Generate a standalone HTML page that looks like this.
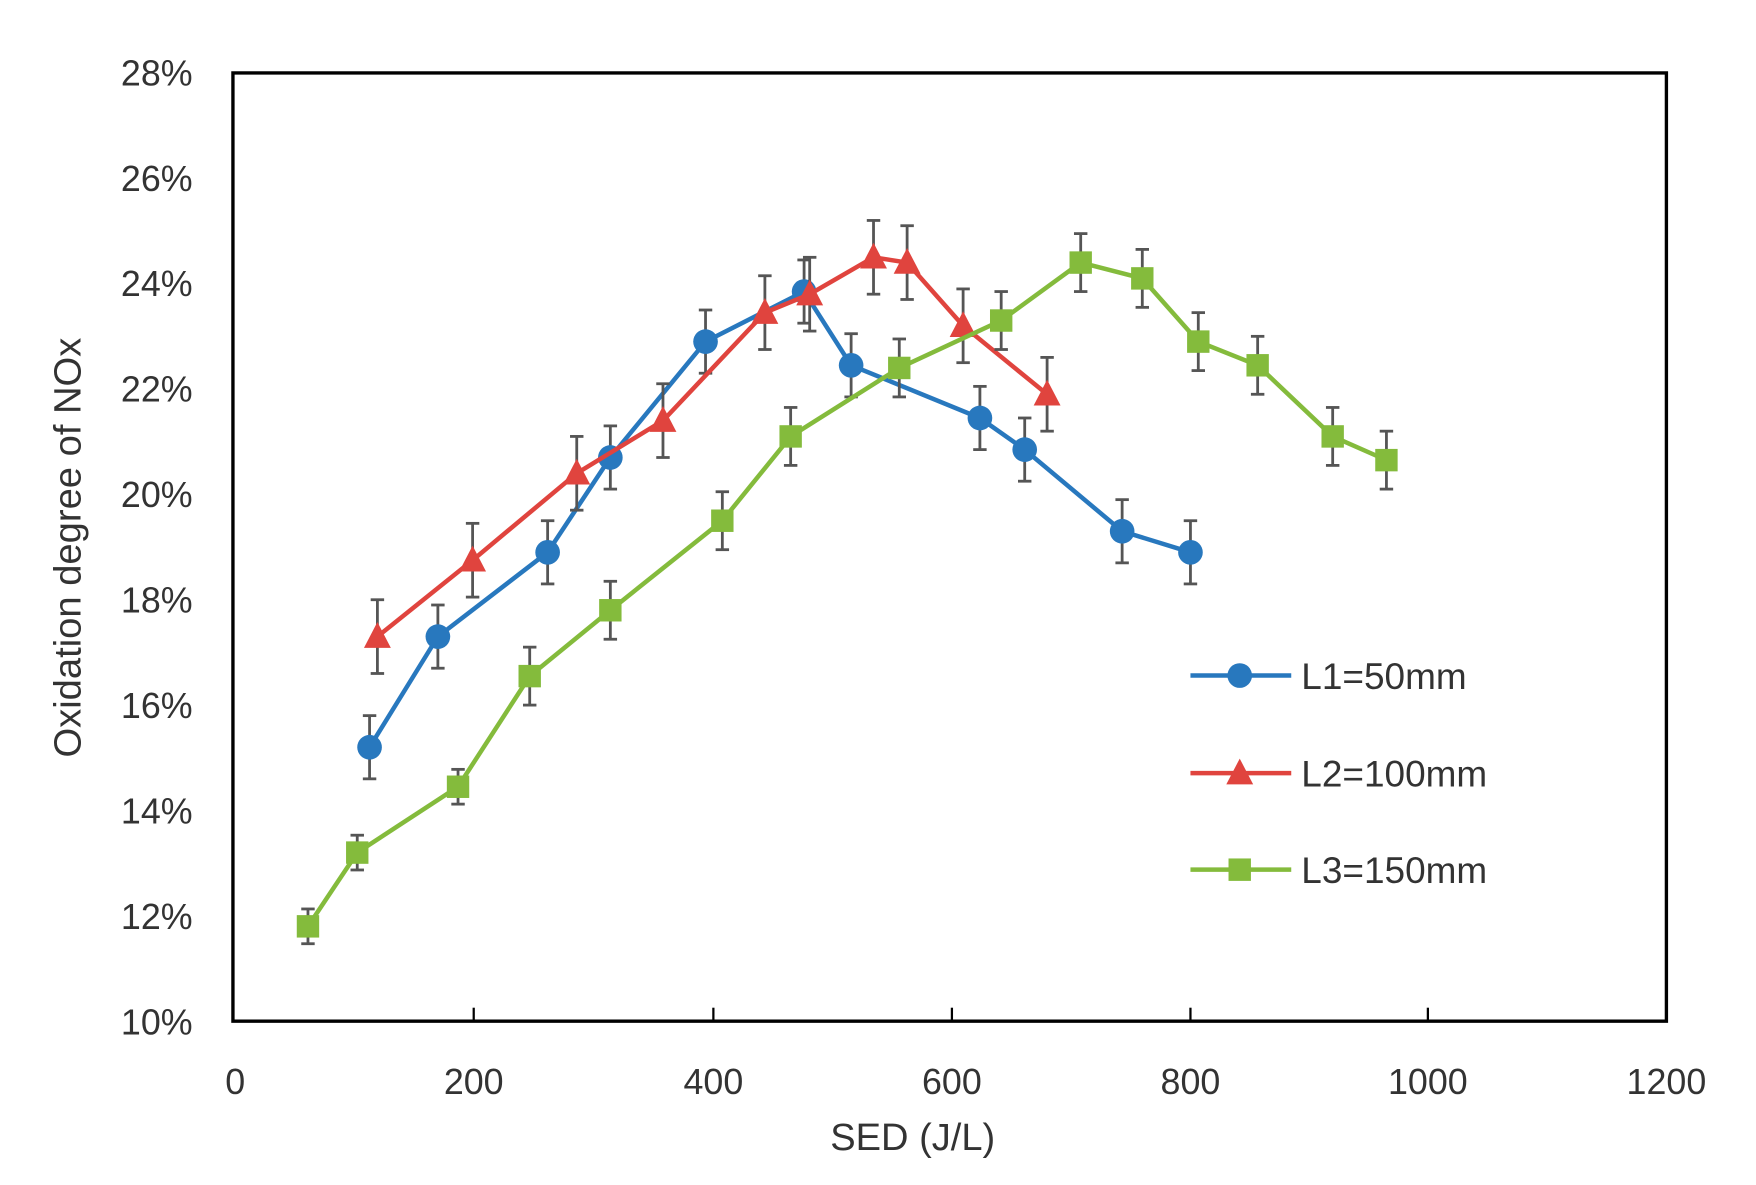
<!DOCTYPE html>
<html><head><meta charset="utf-8"><style>
html,body{margin:0;padding:0;background:#fff;}
svg{display:block;}
text{font-family:"Liberation Sans",sans-serif;fill:#333;}
</style></head><body>
<svg id="s" width="1756" height="1185" viewBox="0 0 1568 1056" preserveAspectRatio="none">
<rect x="0" y="0" width="1568" height="1056" fill="#fff"/>
<rect x="208" y="65" width="1280" height="845" fill="none" stroke="#000" stroke-width="3"/>
<g font-size="32" text-anchor="end">
<text x="172" y="76">28%</text><text x="172" y="170">26%</text><text x="172" y="264">24%</text>
<text x="172" y="358">22%</text><text x="172" y="452">20%</text><text x="172" y="546">18%</text>
<text x="172" y="640">16%</text><text x="172" y="734">14%</text><text x="172" y="828">12%</text>
<text x="172" y="922">10%</text>
</g>
<g font-size="32" text-anchor="middle">
<text x="210" y="975">0</text><text x="423" y="975">200</text><text x="637" y="975">400</text>
<text x="850" y="975">600</text><text x="1063" y="975">800</text><text x="1275" y="975">1000</text>
<text x="1488" y="975">1200</text>
</g>
<g stroke="#000" stroke-width="2">
<line x1="423" y1="910" x2="423" y2="898"/><line x1="637" y1="910" x2="637" y2="898"/>
<line x1="850" y1="910" x2="850" y2="898"/><line x1="1063" y1="910" x2="1063" y2="898"/>
<line x1="1275" y1="910" x2="1275" y2="898"/>
</g>
<text x="815" y="1025" font-size="34" text-anchor="middle">SED (J/L)</text>
<text transform="translate(72,488) rotate(-90)" font-size="34" text-anchor="middle">Oxidation degree of NOx</text>
<g id="series"></g>
<g font-size="33">
<line x1="1063" y1="602" x2="1153" y2="602" stroke="#2878be" stroke-width="4"/>
<circle cx="1107" cy="602" r="11" fill="#2878be"/>
<text x="1162" y="614">L1=50mm</text>
<line x1="1063" y1="689" x2="1153" y2="689" stroke="#e0443e" stroke-width="4"/>
<polygon points="1107,676 1119,699 1095,699" fill="#e0443e"/>
<text x="1162" y="701">L2=100mm</text>
<line x1="1063" y1="775" x2="1153" y2="775" stroke="#84bb3c" stroke-width="4"/>
<rect x="1097" y="765" width="20" height="20" fill="#84bb3c"/>
<text x="1162" y="787">L3=150mm</text>
</g>
</svg>
<script>
var Y=function(p){return 910-(p-10)*845/18;};
var S=[
{c:"#2878be",m:"c",e:0.6,d:[[330,15.2],[391,17.3],[489,18.9],[545,20.7],[630,22.9],[718,23.85],[760,22.45],[875,21.45],[915,20.85],[1002,19.3],[1063,18.9]]},
{c:"#e0443e",m:"t",e:0.7,d:[[337,17.3],[422,18.75],[515,20.4],[592,21.4],[683,23.45],[723,23.8],[780,24.5],[810,24.4],[860,23.2],[935,21.9]]},
{c:"#84bb3c",m:"s",e:0.55,d:[[275,11.8],[319,13.2],[409,14.45],[473,16.55],[545,17.8],[645,19.5],[706,21.1],[803,22.4],[894,23.3],[965,24.4],[1020,24.1],[1070,22.9],[1123,22.45],[1190,21.1],[1238,20.65]]}];
var h="";
S.forEach(function(s){
 var pts=s.d.map(function(p){return [p[0],Y(p[1])];});
 h+='<polyline fill="none" stroke="'+s.c+'" stroke-width="4" points="'+pts.map(function(p){return p.join(",")}).join(" ")+'"/>';
 pts.forEach(function(p,i){
  var v=s.d[i][1],e=s.e*(v<15?0.6:1);
  var y1=Y(v+e),y2=Y(v-e);
  h+='<g stroke="#555" stroke-width="2.5"><line x1="'+p[0]+'" y1="'+y1+'" x2="'+p[0]+'" y2="'+y2+'"/><line x1="'+(p[0]-6)+'" y1="'+y1+'" x2="'+(p[0]+6)+'" y2="'+y1+'"/><line x1="'+(p[0]-6)+'" y1="'+y2+'" x2="'+(p[0]+6)+'" y2="'+y2+'"/></g>';
 });
 pts.forEach(function(p){
  if(s.m=="c")h+='<circle cx="'+p[0]+'" cy="'+p[1]+'" r="11" fill="'+s.c+'"/>';
  else if(s.m=="t")h+='<polygon points="'+p[0]+','+(p[1]-13)+' '+(p[0]+12)+','+(p[1]+10)+' '+(p[0]-12)+','+(p[1]+10)+'" fill="'+s.c+'"/>';
  else h+='<rect x="'+(p[0]-10)+'" y="'+(p[1]-10)+'" width="20" height="20" fill="'+s.c+'"/>';
 });
});
document.getElementById("series").innerHTML=h;
</script>
</body></html>
